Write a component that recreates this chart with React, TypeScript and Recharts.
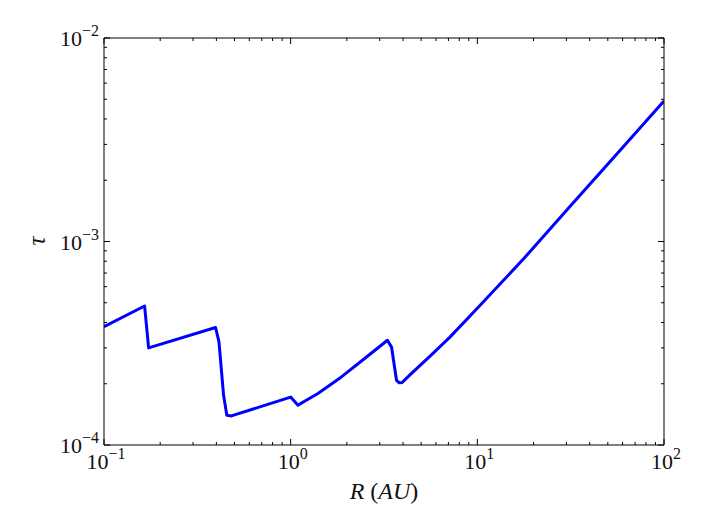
import React from "react";
import { Line, LineChart, XAxis, YAxis } from "recharts";

// radius in AU
const radius = [
  0.1, 0.165, 0.1734, 0.396, 0.413, 0.437, 0.455, 0.481, 1.0, 1.094, 1.2, 1.4,
  1.87, 2.49, 3.3, 3.47, 3.69, 3.82, 3.96, 4.47, 5.62, 7.13, 10, 17.8, 31.6,
  56.2, 100,
];
// optical depth tau
const tau = [
  3.81e-4, 4.82e-4, 3.0e-4, 3.78e-4, 3.21e-4, 1.76e-4, 1.4e-4, 1.39e-4, 1.72e-4,
  1.57e-4, 1.65e-4, 1.79e-4, 2.16e-4, 2.66e-4, 3.27e-4, 3.03e-4, 2.08e-4,
  2.02e-4, 2.03e-4, 2.26e-4, 2.75e-4, 3.39e-4, 4.7e-4, 8.27e-4, 1.5e-3,
  2.71e-3, 4.9e-3,
];

const xTicks = [
  0.1, 0.2, 0.3, 0.4, 0.5, 0.6, 0.7, 0.8, 0.9, 1, 2, 3, 4, 5, 6, 7, 8, 9, 10,
  20, 30, 40, 50, 60, 70, 80, 90, 100,
];
const yTicks = [
  1e-4, 2e-4, 3e-4, 4e-4, 5e-4, 6e-4, 7e-4, 8e-4, 9e-4, 1e-3, 2e-3, 3e-3, 4e-3,
  5e-3, 6e-3, 7e-3, 8e-3, 9e-3, 1e-2,
];

const data = radius.map((r, i) => ({ r, tau: tau[i] }));

const FONT = "'Liberation Serif', 'DejaVu Serif', serif";
const MAJOR = 6;
const MINOR = 3;

const isMajor = (v: number) => {
  const l = Math.log10(v);
  return Math.abs(l - Math.round(l)) < 1e-6;
};

const Pow = ({ x, y, v, anchor }: any) => {
  const exp = Math.round(Math.log10(v));
  const e = exp < 0 ? `\u2212${-exp}` : `${exp}`;
  return (
    <text x={x} y={y} textAnchor={anchor} fontFamily={FONT} fill="#111">
      <tspan fontSize={22}>10</tspan>
      <tspan fontSize={16} dy={-10}>
        {e}
      </tspan>
    </text>
  );
};

const BottomTick = ({ x, y, payload }: any) => {
  const major = isMajor(payload.value);
  return (
    <g>
      <line x1={x} x2={x} y1={y} y2={y - (major ? MAJOR : MINOR)} stroke="#000" />
      {major && <Pow x={x + 2} y={y + 24} v={payload.value} anchor="middle" />}
    </g>
  );
};

const TopTick = ({ x, y, payload }: any) => {
  const major = isMajor(payload.value);
  return <line x1={x} x2={x} y1={y} y2={y + (major ? MAJOR : MINOR)} stroke="#000" />;
};

const LeftTick = ({ x, y, payload }: any) => {
  const major = isMajor(payload.value);
  return (
    <g>
      <line x1={x} x2={x + (major ? MAJOR : MINOR)} y1={y} y2={y} stroke="#000" />
      {major && <Pow x={x - 5} y={y + 8} v={payload.value} anchor="end" />}
    </g>
  );
};

const RightTick = ({ x, y, payload }: any) => {
  const major = isMajor(payload.value);
  return <line x1={x} x2={x - (major ? MAJOR : MINOR)} y1={y} y2={y} stroke="#000" />;
};

export default function App() {
  return (
    <div style={{ position: "absolute", left: 0, top: 0, background: "#fff" }}>
      <LineChart
        width={706}
        height={530}
        data={data}
        margin={{ top: 37, right: 41, bottom: 84, left: 103 }}
      >
        <XAxis
          dataKey="r"
          type="number"
          scale="log"
          domain={[0.1, 100]}
          allowDataOverflow
          ticks={xTicks}
          interval={0}
          height={1}
          tickSize={0}
          tickMargin={0}
          axisLine={{ stroke: "#000" }}
          tick={<BottomTick />}
        />
        <XAxis
          xAxisId="top"
          dataKey="r"
          orientation="top"
          type="number"
          scale="log"
          domain={[0.1, 100]}
          allowDataOverflow
          ticks={xTicks}
          interval={0}
          height={1}
          tickSize={0}
          tickMargin={0}
          axisLine={{ stroke: "#000" }}
          tick={<TopTick />}
        />
        <YAxis
          type="number"
          scale="log"
          domain={[1e-4, 1e-2]}
          allowDataOverflow
          ticks={yTicks}
          interval={0}
          width={1}
          tickSize={0}
          tickMargin={0}
          axisLine={{ stroke: "#000" }}
          tick={<LeftTick />}
        />
        <YAxis
          yAxisId="right"
          orientation="right"
          type="number"
          scale="log"
          domain={[1e-4, 1e-2]}
          allowDataOverflow
          ticks={yTicks}
          interval={0}
          width={1}
          tickSize={0}
          tickMargin={0}
          axisLine={{ stroke: "#000" }}
          tick={<RightTick />}
        />
        <Line
          dataKey="tau"
          type="linear"
          stroke="#0000ff"
          strokeWidth={3}
          strokeLinejoin="round"
          dot={false}
          isAnimationActive={false}
        />
        <text x={384} y={499} textAnchor="middle" fontFamily={FONT} fontSize={24} fill="#111">
          <tspan fontStyle="italic">R</tspan>
          <tspan> (</tspan>
          <tspan fontStyle="italic">AU</tspan>
          <tspan>)</tspan>
        </text>
        <text
          x={45}
          y={241}
          textAnchor="middle"
          fontFamily={FONT}
          fontSize={25}
          fontStyle="italic"
          fill="#111"
          transform="rotate(-90 45 241)"
        >
          τ
        </text>
      </LineChart>
    </div>
  );
}
